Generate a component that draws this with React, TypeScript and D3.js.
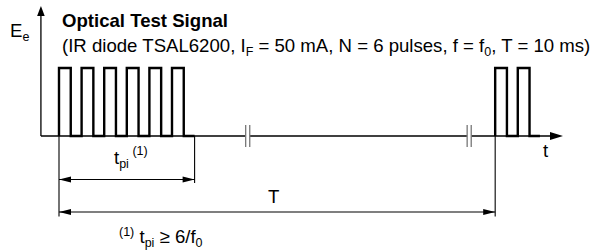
import * as d3 from "d3";

// time in units of one pulse period (1/f0); axis is broken, so T is not to scale
const burstA = [0, 1, 2, 3, 4, 5];
const burstB = [19.3, 20.3];
const duty = 0.52;
const burstATail = 6;
const burstBTail = 21.28;
const tpiEnd = 6;
const periodEnd = 19.3;
const axisBreaks = [8.35, 18.15];
const axisStart = -0.8;
const axisEnd = 22.3;
const yAxisTop = 1.91;

const title = "Optical Test Signal";

const font = "'Liberation Sans', Arial, Helvetica, sans-serif";
const fs = 18.6;
const sub = 12.5;

function arrow(x: number, y: number, dir: string, len: number, half: number) {
  if (dir === "right") return `M${x},${y}L${x - len},${y - half}L${x - len},${y + half}Z`;
  if (dir === "left") return `M${x},${y}L${x + len},${y - half}L${x + len},${y + half}Z`;
  return `M${x},${y}L${x - half},${y + len}L${x + half},${y + len}Z`;
}

function pulsePoints(starts: number[], tail: number) {
  const pts: [number, number][] = [];
  starts.forEach((s) => {
    pts.push([s, 0], [s, 1], [s + duty, 1], [s + duty, 0]);
  });
  pts.push([tail, 0]);
  return pts;
}

export default function App() {
  const x = d3.scaleLinear([0, 6], [59, 194.6]);
  const y = d3.scaleLinear([0, 1], [136, 68]);
  const line = d3.line<[number, number]>().x((d) => x(d[0])).y((d) => y(d[1]));

  const base = y(0);
  const gap = 0.09;
  const segs = [
    [axisStart, axisBreaks[0] - gap],
    [axisBreaks[0] + gap, axisBreaks[1] - gap],
    [axisBreaks[1] + gap, axisEnd - 0.3],
  ];

  const yTpi = 179.5;
  const yT = 212;
  const x0 = x(0);

  return (
    <svg width={592} height={250} style={{ position: "absolute", left: 0, top: 0 }} fontFamily={font}>
      <rect width={592} height={250} fill="#fff" />
      {/* axes */}
      <line x1={x(axisStart)} x2={x(axisStart)} y1={base} y2={y(yAxisTop) + 9} stroke="#000" strokeWidth={1.3} />
      <path d={arrow(x(axisStart), y(yAxisTop), "up", 10, 3.8)} fill="#000" />
      {segs.map((s, i) => (
        <line key={i} x1={x(s[0])} x2={x(s[1])} y1={base} y2={base} stroke="#000" strokeWidth={1.3} />
      ))}
      <path d={arrow(x(axisEnd), base, "right", 13, 4)} fill="#000" />
      {axisBreaks.map((b, i) => (
        <g key={i} stroke="#777" strokeWidth={1.3}>
          <line x1={x(b - gap)} x2={x(b - gap)} y1={base - 11} y2={base + 11} />
          <line x1={x(b + gap)} x2={x(b + gap)} y1={base - 11} y2={base + 11} />
        </g>
      ))}

      {/* signal */}
      <path d={line(pulsePoints(burstA, burstATail))!} fill="none" stroke="#000" strokeWidth={2.4} />
      <path d={line(pulsePoints(burstB, burstBTail))!} fill="none" stroke="#000" strokeWidth={2.4} />

      {/* extension lines */}
      <g stroke="#000" strokeWidth={1.1}>
        <line x1={x0} x2={x0} y1={base} y2={yT + 4.5} />
        <line x1={x(tpiEnd)} x2={x(tpiEnd)} y1={base} y2={yTpi + 3.5} />
        <line x1={x(periodEnd)} x2={x(periodEnd)} y1={base} y2={yT + 4.5} />
      </g>

      {/* dimension lines */}
      <g stroke="#000" strokeWidth={1.1}>
        <line x1={x0} x2={x(tpiEnd)} y1={yTpi} y2={yTpi} />
        <line x1={x0} x2={x(periodEnd)} y1={yT} y2={yT} />
      </g>
      <path d={arrow(x0, yTpi, "left", 12, 3)} fill="#000" />
      <path d={arrow(x(tpiEnd), yTpi, "right", 12, 3)} fill="#000" />
      <path d={arrow(x0, yT, "left", 12, 3)} fill="#000" />
      <path d={arrow(x(periodEnd), yT, "right", 12, 3)} fill="#000" />

      {/* labels */}
      <text x={10} y={37} fontSize={fs}>
        E<tspan fontSize={sub} dy={4}>e</tspan>
      </text>
      <text x={62} y={27} fontSize={fs} fontWeight="bold">{title}</text>
      <text x={62} y={52} fontSize={fs}>
        (IR diode TSAL6200, I<tspan fontSize={sub} dy={4}>F</tspan>
        <tspan dy={-4}> = 50 mA, N = 6 pulses, f = f</tspan>
        <tspan fontSize={sub} dy={4}>0</tspan>
        <tspan dy={-4}>, T = 10 ms)</tspan>
      </text>
      <text x={543} y={157} fontSize={fs}>t</text>
      <text x={114} y={164} fontSize={fs}>
        t<tspan fontSize={sub} dy={4}>pi</tspan>
        <tspan fontSize={sub} dy={-13}> (1)</tspan>
      </text>
      <text x={268} y={203} fontSize={fs}>T</text>
      <text x={119} y={243} fontSize={fs}>
        <tspan fontSize={sub} dy={-7}>(1)</tspan>
        <tspan dy={7}> t</tspan>
        <tspan fontSize={sub} dy={4}>pi</tspan>
        <tspan dy={-4}> ≥ 6/f</tspan>
        <tspan fontSize={sub} dy={4}>0</tspan>
      </text>
    </svg>
  );
}
